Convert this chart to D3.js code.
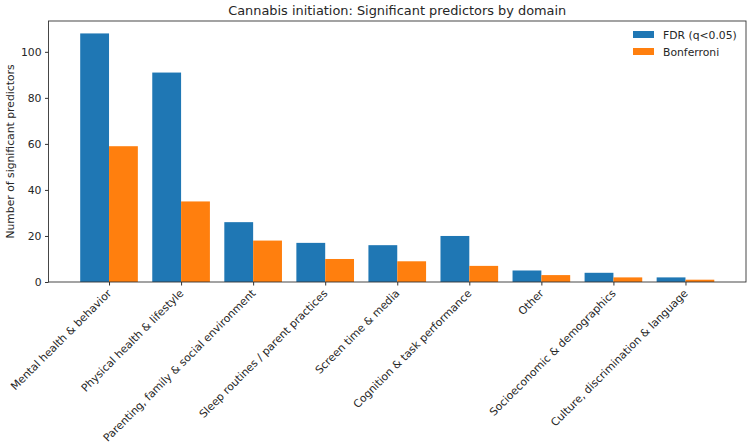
<!DOCTYPE html>
<html>
<head>
<meta charset="utf-8">
<script src="https://cdn.jsdelivr.net/npm/d3@7"></script>
<style>
  body { margin: 0; background: #fff; }
  text { font-family: "DejaVu Sans", sans-serif; fill: #262626; }
</style>
</head>
<body>
<div id="chart"></div>
<script>
// domains, in the order they appear on the x axis
var domains = [
    "Mental health & behavior",
    "Physical health & lifestyle",
    "Parenting, family & social environment",
    "Sleep routines / parent practices",
    "Screen time & media",
    "Cognition & task performance",
    "Other",
    "Socioeconomic & demographics",
    "Culture, discrimination & language"
];
var fdrCounts = [108, 91, 26, 17, 16, 20, 5, 4, 2];
var bonferroniCounts = [59, 35, 18, 10, 9, 7, 3, 2, 1];
var seriesNames = ["FDR (q<0.05)", "Bonferroni"];
var yTicks = [0, 20, 40, 60, 80, 100];

var width = 750, height = 446;
var margin = {top: 21, right: 4, bottom: 164, left: 48.5};
var colors = ["#1f77b4", "#ff7f0e"];
var fs = "10.8px";

var svg = d3.select("#chart").append("svg")
    .attr("width", width).attr("height", height);

var plotW = width - margin.left - margin.right;
var plotH = height - margin.top - margin.bottom;
var g = svg.append("g")
    .attr("transform", "translate(" + margin.left + "," + margin.top + ")");

// index scale like matplotlib: bars of 0.4 either side, 5% padding
var barW = 0.4;
var lo = -barW, hi = domains.length - 1 + barW;
var pad = (hi - lo) * 0.05;
var x = d3.scaleLinear().domain([lo - pad, hi + pad]).range([0, plotW]);
var yMax = d3.max(fdrCounts.concat(bonferroniCounts)) * 1.05;
var y = d3.scaleLinear().domain([0, yMax]).range([plotH, 0]);

var series = [fdrCounts, bonferroniCounts];
series.forEach(function(vals, s) {
    g.selectAll("rect.s" + s)
        .data(vals)
        .enter().append("rect")
        .attr("class", "s" + s)
        .attr("x", function(d, i) { return x(i - barW + s * barW); })
        .attr("width", x(barW) - x(0))
        .attr("y", function(d) { return y(d); })
        .attr("height", function(d) { return plotH - y(d); })
        .attr("fill", colors[s]);
});

// axes
var yAxis = d3.axisLeft(y).tickValues(yTicks).tickSize(3.5).tickPadding(3.5);
var yG = g.append("g").call(yAxis);
yG.select(".domain").remove();
yG.selectAll("text").style("font-size", fs).attr("fill", "#262626");
yG.selectAll("line").attr("stroke", "#333");

var xAxis = d3.axisBottom(x).tickValues(d3.range(domains.length))
    .tickSize(3.5).tickFormat("");
var xG = g.append("g").attr("transform", "translate(0," + plotH + ")").call(xAxis);
xG.select(".domain").remove();
xG.selectAll("line").attr("stroke", "#333");

// rotated category labels
g.selectAll("text.cat")
    .data(domains)
    .enter().append("text")
    .attr("class", "cat")
    .attr("text-anchor", "end")
    .attr("transform", function(d, i) {
        return "translate(" + (x(i) + 3) + "," + (plotH + 12) + ") rotate(-45)";
    })
    .style("font-size", fs)
    .text(function(d) { return d; });

// frame
g.append("rect")
    .attr("width", plotW).attr("height", plotH)
    .attr("fill", "none").attr("stroke", "#333").attr("stroke-width", 0.9);

// title and y label
svg.append("text")
    .attr("x", margin.left + plotW / 2).attr("y", 15)
    .attr("text-anchor", "middle")
    .style("font-size", "12.9px")
    .text("Cannabis initiation: Significant predictors by domain");

svg.append("text")
    .attr("transform", "translate(14," + (margin.top + plotH / 2) + ") rotate(-90)")
    .attr("text-anchor", "middle")
    .style("font-size", fs)
    .text("Number of significant predictors");

// legend
var legend = g.append("g")
    .attr("transform", "translate(" + (plotW - 113) + ",10)");
seriesNames.forEach(function(name, s) {
    var row = legend.append("g").attr("transform", "translate(0," + s * 17 + ")");
    row.append("rect").attr("width", 21).attr("height", 7).attr("fill", colors[s]);
    row.append("text").attr("x", 30).attr("y", 7.5)
        .style("font-size", fs).text(name);
});
</script>
</body>
</html>
